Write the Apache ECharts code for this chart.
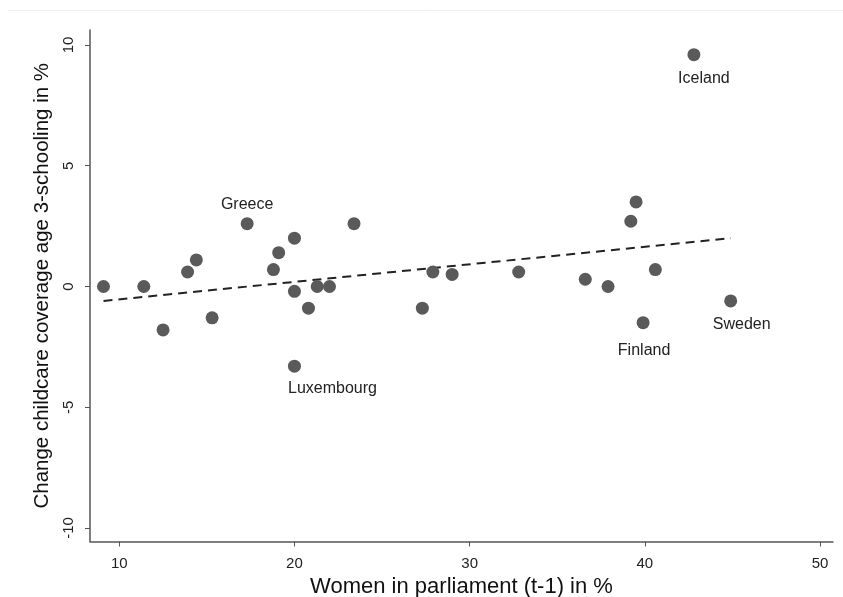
<!DOCTYPE html>
<html>
<head>
<meta charset="utf-8">
<script src="https://cdn.jsdelivr.net/npm/echarts@6/dist/echarts.min.js"></script>
<style>
  html, body { margin: 0; padding: 0; background: #fff; }
  #chart { width: 843px; height: 597px; }
</style>
</head>
<body>
<div id="chart"></div>
<script>
// Share of women in parliament (lagged) vs. change in childcare coverage
const womenInParliament = [9.1, 11.4, 12.5, 13.9, 14.4, 15.3, 17.3, 18.8, 19.1, 20.0, 20.0, 20.0, 20.8, 21.3, 22.0, 23.4, 27.3, 27.9, 29.0, 32.8, 36.6, 37.9, 39.2, 39.5, 39.9, 40.6, 42.8, 44.9];
const childcareChange = [0.0, 0.0, -1.8, 0.6, 1.1, -1.3, 2.6, 0.7, 1.4, 2.0, -0.2, -3.3, -0.9, 0.0, 0.0, 2.6, -0.9, 0.6, 0.5, 0.6, 0.3, 0.0, 2.7, 3.5, -1.5, 0.7, 9.6, -0.6];
const countryLabels = ['', '', '', '', '', '', 'Greece', '', '', '', '', 'Luxembourg', '', '', '', '', '', '', '', '', '', '', '', '', 'Finland', '', 'Iceland', 'Sweden'];

// Linear fit endpoints over the data range
const fitX = [9.1, 44.9];
const fitY = [-0.6, 2.0];

const xTicks = [10, 20, 30, 40, 50];
const yTicks = [-10, -5, 0, 5, 10];

// Label placement per named country
const labelPlacement = {
  Greece: { position: 'top', offset: [0, 0] },
  Luxembourg: { position: 'bottom', offset: [38, 3] },
  Finland: { position: 'bottom', offset: [1, 8] },
  Iceland: { position: 'bottom', offset: [10, 4] },
  Sweden: { position: 'bottom', offset: [11, 4] }
};

const fontFam = 'Liberation Sans, Arial, sans-serif';

const points = womenInParliament.map((x, i) => {
  const name = countryLabels[i];
  const item = { value: [x, childcareChange[i]], name: name };
  if (name) {
    const p = labelPlacement[name];
    item.label = {
      show: true,
      formatter: name,
      position: p.position,
      offset: p.offset,
      color: '#222',
      fontSize: 16,
      fontFamily: fontFam
    };
  }
  return item;
});

const axisColor = '#555';

const chart = echarts.init(document.getElementById('chart'), null, { renderer: 'canvas' });
chart.setOption({
  animation: false,
  backgroundColor: '#fff',
  grid: { left: 90, right: 10, top: 30, bottom: 55.5, containLabel: false, outerBoundsMode: 'none' },
  xAxis: {
    type: 'value',
    min: 8.33,
    max: 50.74,
    name: 'Women in parliament (t-1) in %',
    nameLocation: 'middle',
    nameGap: 34,
    nameTextStyle: { fontSize: 22, color: '#111', fontFamily: fontFam },
    axisLine: { show: true, onZero: false, lineStyle: { color: axisColor, width: 1.5 } },
    axisTick: { show: true, customValues: xTicks, length: 5, lineStyle: { color: axisColor, width: 1 } },
    axisLabel: { customValues: xTicks, margin: 15, fontSize: 15, color: '#222', fontFamily: fontFam },
    splitLine: { show: false }
  },
  yAxis: {
    type: 'value',
    min: -10.56,
    max: 10.62,
    name: 'Change childcare coverage age 3-schooling in %',
    nameLocation: 'middle',
    nameGap: 31,
    nameTextStyle: { fontSize: 20.5, color: '#111', fontFamily: fontFam },
    axisLine: { show: true, onZero: false, lineStyle: { color: axisColor, width: 1.5 } },
    axisTick: { show: true, customValues: yTicks, length: 5, lineStyle: { color: axisColor, width: 1 } },
    axisLabel: { customValues: yTicks, rotate: 90, margin: 14, fontSize: 15, color: '#222', fontFamily: fontFam },
    splitLine: { show: false }
  },
  graphic: [{
    type: 'line',
    shape: { x1: 8, y1: 10.5, x2: 843, y2: 10.5 },
    style: { stroke: '#eeeeee', lineWidth: 1 },
    silent: true
  }],
  series: [
    {
      type: 'line',
      data: fitX.map((x, i) => [x, fitY[i]]),
      symbol: 'none',
      lineStyle: { color: '#222', width: 2, type: [9, 6] },
      z: 1
    },
    {
      type: 'scatter',
      data: points,
      symbol: 'circle',
      symbolSize: 13,
      itemStyle: { color: '#5a5a5a', opacity: 1 },
      z: 2
    }
  ]
});
</script>
</body>
</html>
